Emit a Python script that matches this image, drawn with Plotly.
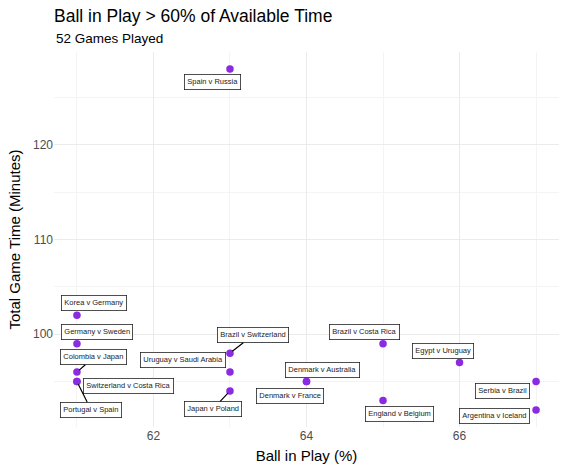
import plotly.graph_objects as go

# games where the ball was in play for more than 60% of the available time
games = [
    "Spain v Russia", "Korea v Germany", "Germany v Sweden", "Colombia v Japan",
    "Switzerland v Costa Rica", "Portugal v Spain", "Brazil v Switzerland",
    "Uruguay v Saudi Arabia", "Japan v Poland", "Denmark v Australia",
    "Denmark v France", "Brazil v Costa Rica", "Egypt v Uruguay",
    "England v Belgium", "Serbia v Brazil", "Argentina v Iceland",
]
ball_in_play = [63, 61, 61, 61, 61, 61, 63, 63, 63, 64, 64, 65, 66, 65, 67, 67]
game_minutes = [128, 102, 99, 96, 95, 95, 98, 96, 94, 95, 95, 99, 97, 93, 95, 92]

x_ticks = [62, 64, 66]
y_ticks = [100, 110, 120]

# label box offsets in pixels (dx, dy) and whether a segment is drawn
label_offsets = {
    "Spain v Russia": (-17, 13, False),
    "Korea v Germany": (17, -12, False),
    "Germany v Sweden": (20, -12, False),
    "Colombia v Japan": (17, -15, True),
    "Switzerland v Costa Rica": (52, 4, False),
    "Portugal v Spain": (14, 28, True),
    "Brazil v Switzerland": (23, -18, True),
    "Uruguay v Saudi Arabia": (-47, -12, False),
    "Japan v Poland": (-17, 18, True),
    "Denmark v Australia": (16, -12, False),
    "Denmark v France": (-17, 14, False),
    "Brazil v Costa Rica": (-19, -12, False),
    "Egypt v Uruguay": (-17, -12, False),
    "England v Belgium": (16, 14, False),
    "Serbia v Brazil": (-34, 9, False),
    "Argentina v Iceland": (-42, 6, False),
}

FONT = "Liberation Sans, Arial, Helvetica, sans-serif"

fig = go.Figure()
fig.add_trace(go.Scatter(
    x=ball_in_play,
    y=game_minutes,
    mode="markers",
    marker=dict(color="#8A2BE2", size=7.5),
    text=games,
    hoverinfo="text",
    showlegend=False,
))

annotations = []
for name, bx, gy in zip(games, ball_in_play, game_minutes):
    dx, dy, seg = label_offsets[name]
    annotations.append(dict(
        x=bx, y=gy, xref="x", yref="y",
        text=name,
        showarrow=True, ax=dx, ay=dy,
        arrowhead=0, arrowwidth=1.2, standoff=3,
        arrowcolor="black" if seg else "rgba(0,0,0,0)",
        font=dict(family=FONT, size=7.5, color="#222222"),
        bgcolor="white", bordercolor="#222222", borderwidth=0.8, borderpad=2.5,
    ))

annotations.append(dict(
    x=0, y=1.037, xref="paper", yref="paper",
    xanchor="left", yanchor="middle",
    text="52 Games Played", showarrow=False,
    font=dict(family=FONT, size=13.5, color="black"),
))

fig.update_layout(
    width=567, height=472,
    margin=dict(l=54, r=8, t=52, b=45),
    paper_bgcolor="white", plot_bgcolor="white",
    font=dict(family=FONT),
    title=dict(
        text="Ball in Play > 60% of Available Time",
        xref="paper", x=0, xanchor="left",
        yref="container", y=1 - 16 / 472, yanchor="middle",
        font=dict(family=FONT, size=17.5, color="black"),
    ),
    annotations=annotations,
    xaxis=dict(
        range=[60.7, 67.3], tickvals=x_ticks, showline=False, zeroline=False,
        automargin=False,
        gridcolor="#EBEBEB", gridwidth=1.1,
        minor=dict(showgrid=True, dtick=1, tick0=61, gridcolor="#F4F4F4", gridwidth=0.6),
        tickfont=dict(size=12, color="#4D4D4D"),
        title=dict(text="Ball in Play (%)", font=dict(size=15, color="black"), standoff=8),
    ),
    yaxis=dict(
        range=[90.2, 129.8], tickvals=y_ticks, showline=False, zeroline=False,
        automargin=False,
        gridcolor="#EBEBEB", gridwidth=1.1,
        minor=dict(showgrid=True, dtick=5, tick0=95, gridcolor="#F4F4F4", gridwidth=0.6),
        tickfont=dict(size=12, color="#4D4D4D"),
        title=dict(text="Total Game Time (Minutes)", font=dict(size=15, color="black"), standoff=8),
    ),
)

# drop the default page margin so the figure sits at the window corner
fig.write_html(
    "out.html",
    config={"displayModeBar": False},
    post_script="document.body.style.margin='0';",
)
